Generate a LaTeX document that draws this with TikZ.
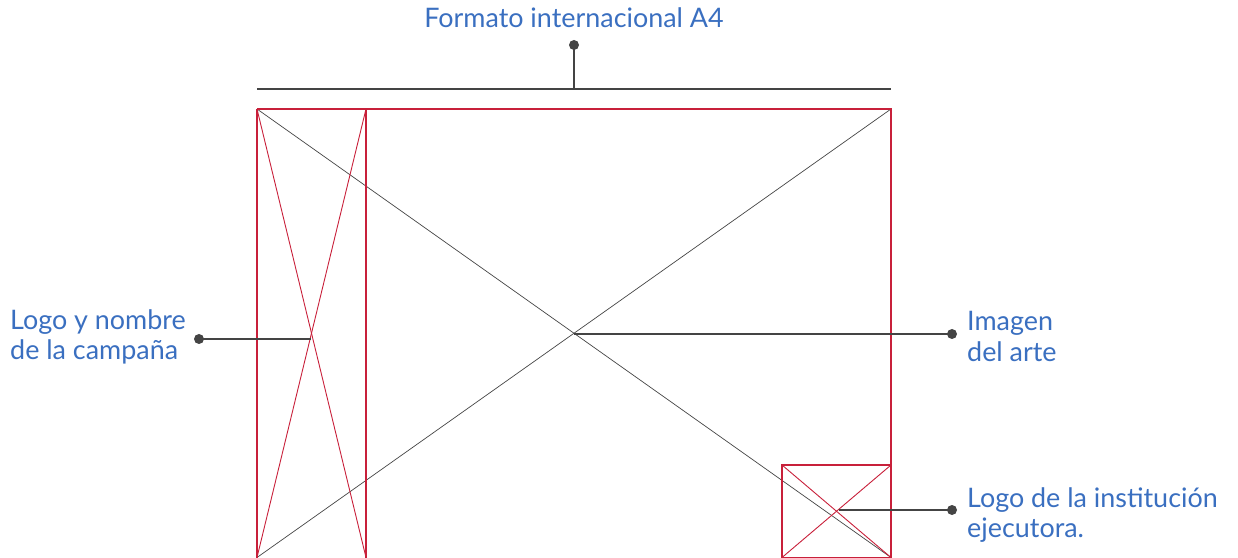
\documentclass[tikz,border=0pt]{standalone}
\usepackage{fontspec}
\setmainfont{Lato}
\definecolor{lblue}{HTML}{3A6FC0}
\definecolor{dred}{HTML}{C8203A}
\definecolor{dgray}{HTML}{444444}
\begin{document}
\begin{tikzpicture}[x=1bp,y=-1bp,
  lbl/.style={text=lblue,font=\fontsize{27}{31}\selectfont,inner sep=0pt,align=left},
  conn/.style={draw=dgray,line width=2bp},
  dotc/.style={circle,fill=dgray,inner sep=0pt,minimum size=10bp},
  redl/.style={draw=dred,line width=1.05bp},
  grayl/.style={draw=dgray,line width=0.7bp}]
\useasboundingbox (0,0) rectangle (1238,558);
% frame coordinates
\coordinate (TL) at (257,109);
\coordinate (TR) at (891,109);
\coordinate (BL) at (257,557.5);
\coordinate (BR) at (891,557.5);
\coordinate (CTR) at (366,109);
\coordinate (CBR) at (366,557.5);
\coordinate (STL) at (782,465);
\coordinate (STR) at (891,465);
\coordinate (SBL) at (782,557.5);
% big gray X
\draw[grayl] (TL) -- (BR);
\draw[grayl] (TR) -- (BL);
% red frames
\draw[redl] (TL) -- (TR) -- (BR);
\draw[redl] (TL) -- (BL);
\draw[redl] (CTR) -- (CBR);
\draw[redl,line width=0.9bp] (TL) -- (CBR);
\draw[redl,line width=0.9bp] (CTR) -- (BL);
\draw[redl] (STL) rectangle (BR);
\draw[redl,line width=0.9bp] (STL) -- (BR);
\draw[redl,line width=0.9bp] (STR) -- (SBL);
% top bracket
\coordinate (BrL) at (257,89);
\coordinate (BrR) at (891,89);
\coordinate (BrM) at (574,89);
\draw[conn] (BrL) -- (BrR);
\node[dotc] (dtop) at (574,45) {};
\draw[conn] (BrM) -- (dtop.center);
\node[lbl,anchor=base] (ttop) at (574,28) {Formato internacional A4};
% left
\node[dotc] (dleft) at (199,339) {};
\coordinate (xleft) at (311,339);
\draw[conn] (dleft.center) -- (xleft);
\node[lbl,anchor=north west] (tleft) at (10,309) {Logo y nombre\\de la campaña};
% right middle
\node[dotc] (dmid) at (952,334) {};
\coordinate (xmid) at (574,334);
\draw[conn] (xmid) -- (dmid.center);
\node[lbl,anchor=north west] (tmid) at (967,311) {Imagen\\del arte};
% right bottom
\node[dotc] (dlow) at (952,510) {};
\coordinate (xlow) at (839,510);
\draw[conn] (xlow) -- (dlow.center);
\node[lbl,anchor=north west] (tlow) at (967,487) {Logo de la institución\\ejecutora.};
\end{tikzpicture}
\end{document}
